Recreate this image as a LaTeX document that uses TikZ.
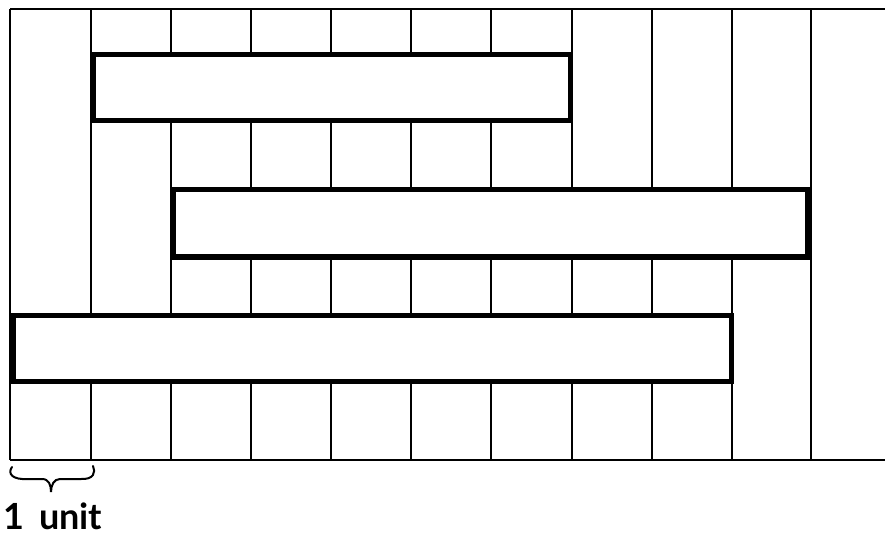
\documentclass[tikz,border=0pt]{standalone}
\usepackage{fontspec}
\setmainfont{Lato}
\begin{document}
\begin{tikzpicture}[x=1pt,y=-1pt,
  gridline/.style={line width=1.9pt, line cap=butt},
  plank/.style={draw, fill=white, line width=5.2pt, line join=miter},
  bracestroke/.style={line width=2pt, line cap=round}]
\useasboundingbox (0,0) rectangle (885,535);
% grid
\coordinate (tl) at (10,9);
\coordinate (tr) at (885,9);
\coordinate (bl) at (10,460);
\coordinate (br) at (885,460);
\draw[gridline] (tl) -- (tr);
\draw[gridline] (bl) -- (br);
\foreach \x in {10,91,171,251,331,411,491,572,652,732,811}{
  \draw[gridline] (\x,9) -- (\x,460);
}
% planks
\draw[plank] (93.5,54.5) rectangle (570.5,120.5);
\draw[plank] (173.5,189.5) rectangle (807.5,257);
\draw[plank] (13,315.5) rectangle (731.5,381.5);
% brace
\coordinate (bL) at (12,467);
\coordinate (bR) at (93,466);
\coordinate (bT) at (51,492);
\draw[bracestroke] (bL) .. controls (7,474) and (13,480) .. (28,479)
  -- (42,479) .. controls (49,479) and (51,485) .. (bT)
  .. controls (51,485) and (54,479) .. (60,479)
  -- (80,479) .. controls (94,480) and (96,472) .. (bR);
% label
\node[anchor=base west, inner sep=0pt, font=\bfseries\fontsize{36}{40}\selectfont] (lbl) at (3,529) {1\hspace{15pt}unit};
\end{tikzpicture}
\end{document}
